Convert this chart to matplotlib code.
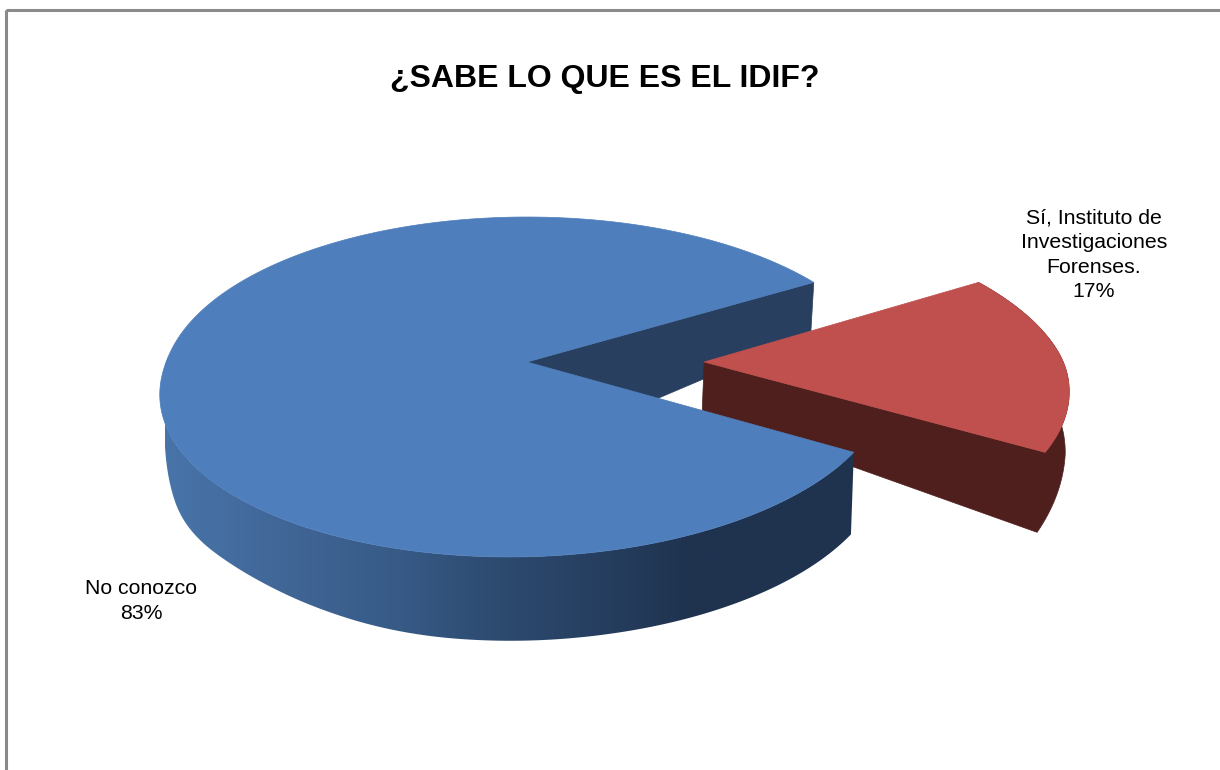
import numpy as np
import matplotlib
matplotlib.use("Agg")
import matplotlib.pyplot as plt
from matplotlib.colors import LinearSegmentedColormap
from matplotlib.patches import Polygon, Rectangle

labels = ["No conozco", "Sí, Instituto de\nInvestigaciones\nForenses."]
values = [83, 17]
title = "¿SABE LO QUE ES EL IDIF?"

plt.rcParams['font.family'] = ['Liberation Sans', 'DejaVu Sans']

# pie placement, in figure pixels
cx, cy = 527.0, 362.0
rx, ry = 360.0, 166.3
persp = 0.147
explode = 0.492
start = 31.0


def project(ang, off=0.0):
    c = np.cos(np.radians(ang)) + off
    s = np.sin(np.radians(ang))
    w = 1 + persp * s
    # front of the disc slides left a bit
    slide = 9 * (np.sqrt(s * s + 0.01) - s)
    return cx + rx * c / w - slide, cy - ry * s / w


# rounds off the corners of the wall's lower edge
def smooth(v, n=41):
    pad = np.pad(v, n // 2, mode='edge')
    return np.convolve(pad, np.ones(n) / n, mode='valid')


fig = plt.figure(figsize=(12.2, 7.7), dpi=100)
ax = fig.add_axes([0, 0, 1, 1])

ax.add_patch(Rectangle((5.5, 10), 1400, 1000, fill=False, ec='#8a8a8a', lw=2.2))

blue_span = values[0] / sum(values) * 360
red_span = values[1] / sum(values) * 360
blue_end = start + blue_span
red_start = start - red_span

# inner cut of the blue slice
ox, oy = project(start)
ax.add_patch(Polygon([(cx, cy), (ox, oy), (ox - 3, oy + 51), (cx, 454)], fc='#283f5f', ec='#283f5f', lw=0.5, zorder=2))

# red slice walls and top
t = np.linspace(red_start, start, 120)
x, y = project(t, explode)
apex_x = cx + rx * explode
d = np.interp(t, [red_start, red_start + 10, red_start + 20, start], [80, 71, 62, 45])
lean = np.interp(t, [red_start, red_start + 10, red_start + 20, start], [8, 6, 4, 2])
xb = x - lean
yb = y + d
wall = [(apex_x, cy)] + list(zip(x, y)) + list(zip(xb, yb))[::-1] + [(apex_x - 2, cy + 51)]
ax.add_patch(Polygon(wall, fc='#4f1f1e', ec='#4f1f1e', lw=0.5, zorder=3))
ax.add_patch(Polygon([(apex_x, cy)] + list(zip(x, y)), fc='#c0504d', ec='#c0504d', lw=0.5, zorder=4))

# blue outer wall, shaded from left to right
t = np.linspace(178, blue_end, 400)
x, y = project(t)
knots = [178, 183, 199, 213, 228, 255, 270, blue_end]
d = smooth(np.interp(t, knots, [20, 34, 63, 69, 70, 83, 84, 82]))
lean = smooth(np.interp(t, knots, [-3, -3, -7, 0, 0, 0, 0, 3]))
xb = x - lean
yb = y + d
stops = [(165, '#4874aa'), (250, '#436a9c'), (400, '#375a86'), (500, '#2d4a6f'),
         (600, '#263f60'), (690, '#1f334f'), (860, '#1f334f')]
cmap = LinearSegmentedColormap.from_list(
    'wall', [((p - 165) / 695, col) for p, col in stops])
wall = Polygon(list(zip(x, y)) + list(zip(xb, yb))[::-1], fc='none', ec='none', zorder=5)
ax.add_patch(wall)
grad = np.linspace(0, 1, 700).reshape(1, -1)
im = ax.imshow(grad, cmap=cmap, extent=(165, 860, 660, 340), aspect='auto', zorder=5)
im.set_clip_path(wall)

# blue top
t = np.linspace(start, blue_end, 500)
x, y = project(t)
ax.add_patch(Polygon([(cx, cy)] + list(zip(x, y)), fc='#4e7ebb', ec='#4e7ebb', lw=0.5, zorder=6))

ax.text(605, 79, title, fontsize=23, fontweight='bold', ha='center', va='center', color='black')
ax.text(141, 601, labels[0] + "\n" + str(values[0]) + "%", fontsize=15.3, ha='center', va='center',
        color='black', linespacing=1.36)
ax.text(1094, 255, labels[1] + "\n" + str(values[1]) + "%", fontsize=15.3, ha='center', va='center',
        color='black', linespacing=1.36)

ax.set_xlim(0, 1220)
ax.set_ylim(770, 0)
ax.axis('off')

plt.savefig("out.png", dpi=100)
